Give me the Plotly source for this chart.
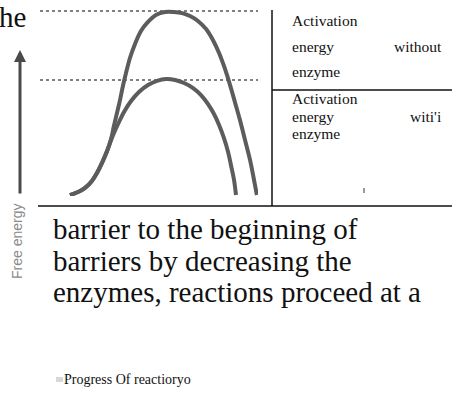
import plotly.graph_objects as go

# ---- data (progress 0-100, free energy 0-100) ----
progress_without = [14.5, 18.2, 21.4, 24.5, 26.8, 29.1, 31.4, 33.2, 34.5, 35.9, 37.3, 38.6, 40.0, 41.8,
                    44.1, 46.8, 50.0, 53.6, 57.7, 61.8, 65.5, 69.1, 72.7, 76.4, 79.5, 82.3, 85.0, 87.3,
                    89.5, 91.8, 94.1, 96.4, 98.2, 99.5]
energy_without = [0.5, 2.1, 4.3, 8.0, 12.2, 17.6, 23.9, 30.3, 37.2, 44.1, 51.1, 58.5, 65.4, 73.4,
                  80.9, 87.8, 92.6, 96.3, 97.9, 97.9, 97.3, 95.7, 93.1, 88.8, 83.0, 76.1, 67.6, 59.0,
                  50.0, 40.4, 29.8, 19.1, 8.5, 0.5]
progress_with = [14.5, 18.2, 21.4, 24.5, 26.8, 29.1, 31.4, 33.6, 36.4, 39.1, 42.3, 45.9, 50.0, 54.1,
                 58.2, 62.3, 66.4, 70.5, 74.1, 77.3, 80.0, 82.3, 84.5, 86.4, 87.7, 89.1, 90.0]
energy_with = [0.5, 2.1, 4.3, 8.0, 12.2, 17.6, 23.9, 30.9, 38.3, 44.7, 50.5, 55.3, 59.0, 61.2,
               62.2, 61.7, 60.1, 57.4, 53.7, 48.9, 43.6, 37.8, 30.9, 23.4, 16.5, 8.5, 0.5]
peak_levels = [98.4, 61.7]          # dotted reference levels
level_span = [0.9, 100.0]

label_without = ["Activation", "energy", "without", "enzyme"]
label_with = ["Activation", "energy", "witi'i", "enzyme"]
body_lines = ["barrier to the beginning of",
              "barriers by decreasing the",
              "enzymes, reactions proceed at a"]
top_fragment = "he"
y_title = "Free energy"
x_title = "Progress Of reactioryo"

W, H = 452, 405
def px(x): return x / W
def py(y): return 1 - y / H

CURVE = "#5c5c5c"
SERIF = "Liberation Serif, Times New Roman, serif"

fig = go.Figure()
for lvl in peak_levels:
    fig.add_trace(go.Scatter(x=level_span, y=[lvl, lvl], mode="lines",
                             line=dict(color="#808080", width=2, dash="dot"),
                             hoverinfo="skip", showlegend=False))
fig.add_trace(go.Scatter(x=progress_without, y=energy_without, mode="lines",
                         line=dict(color=CURVE, width=4, shape="spline"),
                         hoverinfo="skip", showlegend=False))
fig.add_trace(go.Scatter(x=progress_with, y=energy_with, mode="lines",
                         line=dict(color=CURVE, width=4, shape="spline"),
                         hoverinfo="skip", showlegend=False))

shapes = [
    dict(type="line", xref="paper", yref="paper", x0=px(38), x1=px(452), y0=py(206), y1=py(206),
         line=dict(color="#111", width=1.5)),
    dict(type="line", xref="paper", yref="paper", x0=px(272), x1=px(272), y0=py(10), y1=py(206),
         line=dict(color="#111", width=1.5)),
    dict(type="line", xref="paper", yref="paper", x0=px(272), x1=px(452), y0=py(90), y1=py(90),
         line=dict(color="#111", width=1.5)),
    dict(type="rect", xref="paper", yref="paper", x0=px(363), x1=px(365), y0=py(193), y1=py(188),
         line=dict(width=0), fillcolor="#999"),
    dict(type="rect", xref="paper", yref="paper", x0=px(56), x1=px(63), y0=py(382), y1=py(377),
         line=dict(width=0), fillcolor="#d8d8d8"),
]

ann = []
def text(t, x, y, size, anchor="left", color="#111", family=SERIF, angle=0):
    ann.append(dict(text=t, x=px(x), y=py(y), xref="paper", yref="paper", showarrow=False,
                    xanchor=anchor, yanchor="middle", textangle=angle,
                    font=dict(family=family, size=size, color=color)))

text(top_fragment, -3, 17, 29)
# right box, justified lines
text(label_without[0], 290, 20, 15.5)
text(label_without[1], 290, 46, 15.5)
text(label_without[2], 444, 46, 15.5, anchor="right")
text(label_without[3], 290, 71, 15.5)
text(label_with[0], 290, 98, 15.5)
text(label_with[1], 290, 116, 15.5)
text(label_with[2], 444, 116, 15.5, anchor="right")
text(label_with[3], 290, 133, 15.5)
for i, line in enumerate(body_lines):
    text(line, 51, 229 + 31.5 * i, 29)
text(y_title, 17, 242, 14, anchor="center", color="#8a8a8a",
     family="Liberation Sans, Arial, sans-serif", angle=-90)
text(x_title, 62, 379, 14)

# vertical arrow
ann.append(dict(x=px(20), y=py(50), xref="paper", yref="paper", ax=0, ay=145,
                showarrow=True, arrowhead=2, arrowsize=0.8, arrowwidth=3,
                arrowcolor="#4a4a4a", text=""))

fig.update_layout(
    width=W, height=H, margin=dict(l=0, r=0, t=0, b=0),
    paper_bgcolor="white", plot_bgcolor="white",
    xaxis=dict(domain=[px(38), px(258)], range=[0, 100], visible=False),
    yaxis=dict(domain=[py(196), py(8)], range=[0, 100], visible=False),
    shapes=shapes, annotations=ann,
)
fig.write_html("out.html", config={"displayModeBar": False},
               post_script="document.body.style.margin='0';")
